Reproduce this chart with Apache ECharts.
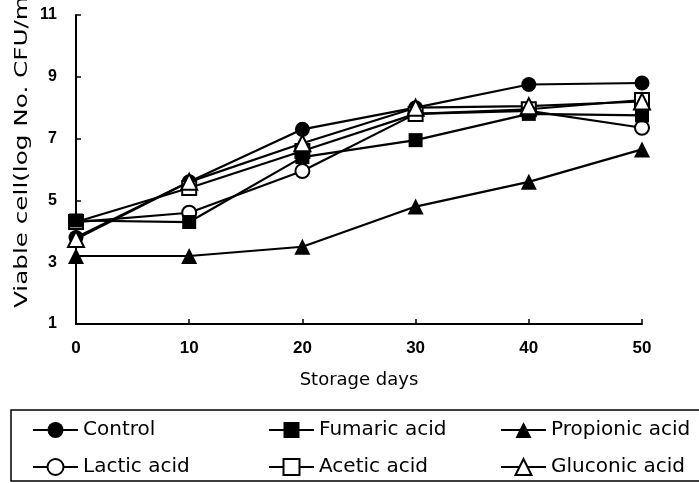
<!DOCTYPE html>
<html>
<head>
<meta charset="utf-8">
<script src="https://cdn.jsdelivr.net/npm/echarts@6/dist/echarts.min.js"></script>
<style>
html,body{margin:0;padding:0;background:#fff;}
#chart{width:699px;height:483px;}
</style>
</head>
<body>
<div id="chart"></div>
<script>
var days = [0, 10, 20, 30, 40, 50];
var yTicks = [1, 3, 5, 7, 9, 11];
var control   = [3.8, 5.6, 7.3, 8.0, 8.75, 8.8];
var fumaric   = [4.35, 4.3, 6.4, 6.95, 7.8, 7.75];
var propionic = [3.2, 3.2, 3.5, 4.8, 5.6, 6.65];
var lactic    = [4.3, 4.6, 5.95, 7.8, 7.9, 7.35];
var acetic    = [4.3, 5.4, 6.6, 7.8, 7.95, 8.25];
var gluconic  = [3.75, 5.6, 6.85, 8.0, 8.05, 8.2];

var names = ['Control', 'Fumaric acid', 'Propionic acid', 'Lactic acid', 'Acetic acid', 'Gluconic acid'];

function pairs(vals) { return days.map(function (d, i) { return [d, vals[i]]; }); }

function mk(name, vals, symbol, size, filled) {
  return {
    name: name,
    type: 'line',
    data: pairs(vals),
    symbol: symbol,
    symbolSize: size,
    showAllSymbol: true,
    lineStyle: { color: '#000', width: 2.2 },
    itemStyle: { color: filled ? '#000' : '#fff', borderColor: '#000', borderWidth: filled ? 0 : 2 },
    emphasis: { disabled: true },
    animation: false
  };
}

var chart = echarts.init(document.getElementById('chart'), null, { renderer: 'canvas' });
var legendText = { color: '#000', fontSize: 20, fontFamily: 'DejaVu Sans' };
function lg(data, left) {
  return {
    data: data, orient: 'vertical', left: left, top: 420,
    itemWidth: 45, itemHeight: 20, itemGap: 17, padding: 0,
    textStyle: legendText, selectedMode: false
  };
}
chart.setOption({
  animation: false,
  backgroundColor: '#fff',
  textStyle: { fontFamily: 'DejaVu Sans' },
  grid: { left: 76, right: 57, top: 15, bottom: 159 },
  xAxis: {
    type: 'value', min: 0, max: 50, interval: 10,
    name: 'Storage days', nameLocation: 'middle', nameGap: 47,
    nameTextStyle: { color: '#000', fontSize: 18, fontFamily: 'DejaVu Sans' },
    axisLine: { lineStyle: { color: '#000', width: 2 } },
    axisTick: { inside: true, length: 5, lineStyle: { color: '#000', width: 1.5 } },
    axisLabel: { color: '#000', fontSize: 17, fontWeight: 'bold', fontFamily: 'Liberation Sans, Arial, sans-serif', margin: 16 },
    splitLine: { show: false }
  },
  yAxis: {
    type: 'value', min: 1, max: 11,
    axisLine: { show: true, lineStyle: { color: '#000', width: 2 } },
    axisTick: { show: true, inside: true, length: 5, customValues: yTicks, lineStyle: { color: '#000', width: 1.5 } },
    axisLabel: { color: '#000', fontSize: 16, fontWeight: 'bold', fontFamily: 'Liberation Sans, Arial, sans-serif', margin: 19, customValues: yTicks },
    splitLine: { show: false }
  },
  legend: [
    lg([names[0], names[3]], 32),
    lg([names[1], names[4]], 268),
    lg([names[2], names[5]], 500)
  ],
  graphic: [
    { type: 'rect', shape: { x: 11, y: 410, width: 700, height: 71 },
      style: { fill: 'none', stroke: '#000', lineWidth: 1.5 }, silent: true },
    { type: 'text', x: 22, y: 308, rotation: Math.PI / 2, scaleX: 1.37,
      style: { text: 'Viable cell(log No. CFU/ml)', fill: '#000', font: '18px "DejaVu Sans"',
               textAlign: 'left', textVerticalAlign: 'middle' }, silent: true }
  ],
  series: [
    mk(names[0], control, 'circle', 15, true),
    mk(names[3], lactic, 'circle', 14, false),
    mk(names[4], acetic, 'rect', 14, false),
    mk(names[1], fumaric, 'rect', 14, true),
    mk(names[2], propionic, 'triangle', 16, true),
    mk(names[5], gluconic, 'triangle', 16, false)
  ]
});
</script>
</body>
</html>
